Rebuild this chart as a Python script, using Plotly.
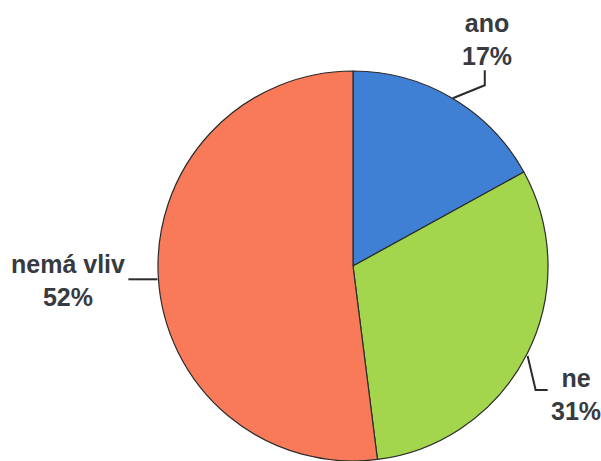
import math
import plotly.graph_objects as go

# Survey answers and their shares (percent)
labels = ["ano", "ne", "nemá vliv"]
values = [17, 31, 52]
colors = ["#3f7fd4", "#a3d64c", "#f87a59"]

W, H = 601, 461
cx, cy, r = 353, 267, 196          # pie centre / radius in pixels

def px(x):
    return x / W

def py(y):
    return 1 - y / H

fig = go.Figure(go.Pie(
    labels=labels,
    values=values,
    sort=False,
    direction="clockwise",
    rotation=0,
    textinfo="none",
    hoverinfo="label+percent",
    marker=dict(colors=colors, line=dict(color="#2b2b2b", width=1.2)),
    domain=dict(x=[px(cx - r), px(cx + r)], y=[max(0, py(cy + r)), py(cy - r)]),
    showlegend=False,
))

# Point on the rim at the middle of each slice
total = sum(values)
mids = []
acc = 0
for v in values:
    mid = (acc + v / 2) / total * 2 * math.pi
    mids.append((cx + r * math.sin(mid), cy - r * math.cos(mid)))
    acc += v

# Elbow leader lines (pixel offsets from the rim point) and label anchors
leaders = [
    [(32, -13), (32, -28)],
    [(8, 34), (20, 34)],
    [(-29, 0)],
]
anchors = [(487, 39), (576, 394), (68, 280)]

shapes = []
for (x0, y0), offs in zip(mids, leaders):
    d = f"M {px(x0)},{py(y0)}"
    for dx, dy in offs:
        d += f" L {px(x0 + dx)},{py(y0 + dy)}"
    shapes.append(dict(type="path", path=d, xref="paper", yref="paper",
                       line=dict(color="#2b2b2b", width=2)))

annotations = []
for lab, v, (ax, ay) in zip(labels, values, anchors):
    pct = round(v / total * 100)
    annotations.append(dict(
        text=f"<b>{lab}<br>{pct}%</b>",
        x=px(ax), y=py(ay), xref="paper", yref="paper",
        xanchor="center", yanchor="middle", showarrow=False,
        font=dict(family="Liberation Sans, Arial, sans-serif", size=25, color="#373a3f"),
    ))

fig.update_layout(
    width=W, height=H,
    margin=dict(l=0, r=0, t=0, b=0),
    paper_bgcolor="white",
    plot_bgcolor="white",
    shapes=shapes,
    annotations=annotations,
)

fig.write_html("out.html")
